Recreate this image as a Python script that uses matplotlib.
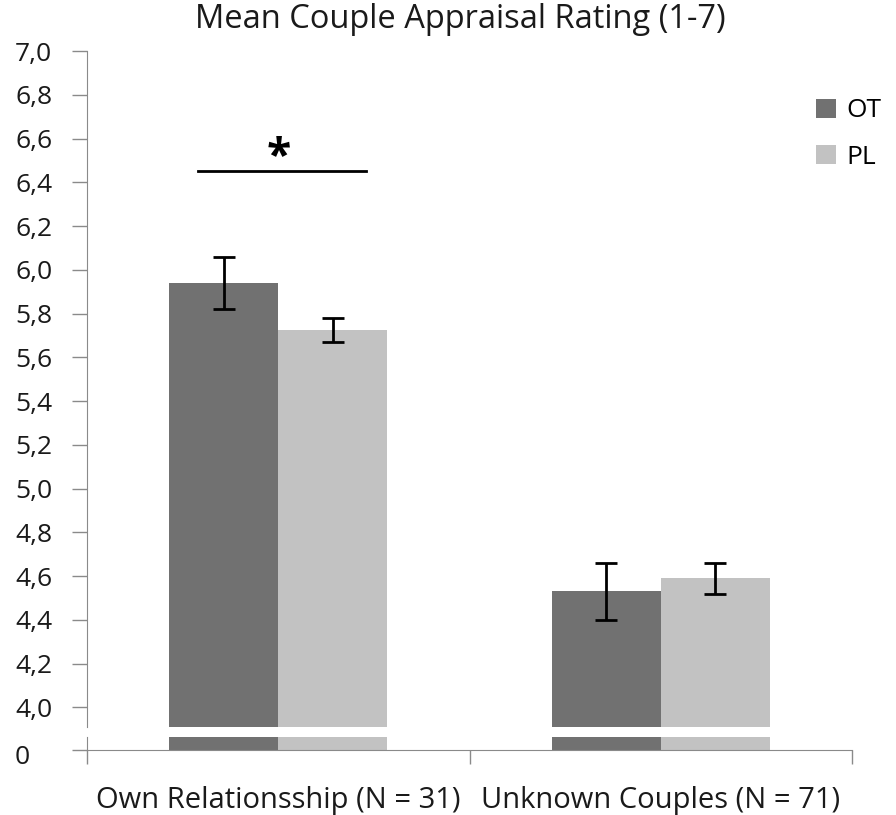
import matplotlib.pyplot as plt
import numpy as np
from matplotlib.ticker import FuncFormatter, FixedLocator

plt.rcParams['font.family'] = ['Open Sans', 'DejaVu Sans']

# --- datos ---
categorias = ['Own Relationsship (N = 31)', 'Unknown Couples (N = 71)']
grupos = ['OT', 'PL']
media_ot = [5.94, 4.53]
media_pl = [5.725, 4.59]
err_ot = [0.12, 0.13]
err_pl = [0.055, 0.07]
colores = ['#717171', '#c2c2c2']

fig = plt.figure(figsize=(8.96, 8.15), dpi=100)
ax = fig.add_axes([87 / 896, 88 / 815, 765 / 896, 676 / 815])
ax_bajo = fig.add_axes([87 / 896, 65 / 815, 765 / 896, 13 / 815])

x = np.arange(len(categorias))
ancho = 0.285
gris = '#8a8a8a'
texto = '#1a1a1a'

for a in (ax, ax_bajo):
    a.bar(x - ancho / 2, media_ot, ancho, color=colores[0], label=grupos[0])
    a.bar(x + ancho / 2, media_pl, ancho, color=colores[1], label=grupos[1])
    a.set_xlim(-0.5, 1.5)
    for s in ('top', 'right'):
        a.spines[s].set_visible(False)
    a.spines['left'].set_color(gris)
    a.spines['bottom'].set_color(gris)
    a.tick_params(axis='y', colors=gris, labelcolor=texto,
                  labelsize=19, length=11, width=1, pad=14)

ax.errorbar(x - ancho / 2, media_ot, yerr=err_ot, fmt='none', ecolor='black',
            elinewidth=2, capsize=8, capthick=2)
ax.errorbar(x + ancho / 2, media_pl, yerr=err_pl, fmt='none', ecolor='black',
            elinewidth=2, capsize=8, capthick=2)

# eje superior (roto)
ax.set_ylim(3.91, 7.0)
ax.set_yticks(np.arange(4.0, 7.01, 0.2))
ax.yaxis.set_major_formatter(FuncFormatter(lambda v, p: f'{v:.1f}'.replace('.', ',')))
ax.spines['bottom'].set_visible(False)
ax.set_xticks([])

# eje inferior
ax_bajo.set_ylim(0, 0.2)
ax_bajo.set_yticks([0])
ax_bajo.set_yticklabels([''])
fig.text(15 / 896, 1 - 758 / 815, '0', ha='left', va='center', fontsize=19, color=texto)
ax_bajo.set_xticks(x)
ax_bajo.set_xticklabels(categorias, fontsize=21, color=texto)
ax_bajo.tick_params(axis='x', which='major', length=0, pad=26)
ax_bajo.xaxis.set_minor_locator(FixedLocator([-0.5, 0.5, 1.5]))
ax_bajo.tick_params(axis='x', which='minor', length=10, width=1, color=gris)

# marca de significancia
ax.plot([-0.21, 0.23], [6.45, 6.45], color='black', lw=2)
ax.text(0.0, 6.41, '*', ha='center', va='bottom', fontsize=32, fontweight='bold')

leg = ax.legend(loc='upper right', bbox_to_anchor=(1.07, 0.965), frameon=False,
                fontsize=19, handlelength=0.75, handleheight=0.75,
                labelspacing=0.8, handletextpad=0.4)

fig.text(460 / 896, 1 - 20 / 815, 'Mean Couple Appraisal Rating (1-7)',
         ha='center', va='center', fontsize=23.5, color=texto)

fig.savefig('out.png', dpi=100)
